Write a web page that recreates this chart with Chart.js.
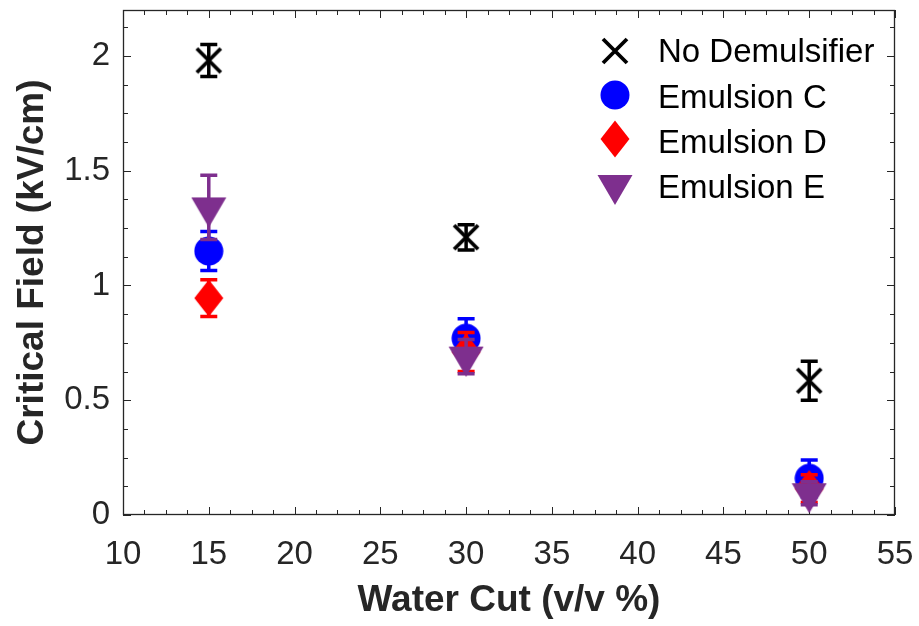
<!DOCTYPE html>
<html>
<head>
<meta charset="utf-8">
<script src="https://cdn.jsdelivr.net/npm/chart.js@4.4.1/dist/chart.umd.min.js"></script>
<style>
  html, body { margin: 0; padding: 0; background: #fff; }
</style>
</head>
<body>
<canvas id="criticalField" width="919" height="626"></canvas>
<script>
// water cut (v/v %) and critical field (kV/cm) per emulsion, with error bars
var waterCut = [15, 30, 50];
var seriesNames = ['No Demulsifier', 'Emulsion C', 'Emulsion D', 'Emulsion E'];
var noDemulsifier = [1.98, 1.21, 0.585];
var noDemulsifierErr = [0.07, 0.055, 0.085];
var emulsionC = [1.15, 0.77, 0.16];
var emulsionCErr = [0.085, 0.085, 0.08];
var emulsionD = [0.945, 0.71, 0.115];
var emulsionDErr = [0.08, 0.085, 0.06];
var emulsionE = [1.34, 0.69, 0.095];
var emulsionEErr = [0.14, 0.075, 0.05];
var xTicks = [10, 15, 20, 25, 30, 35, 40, 45, 50, 55];
var yTicks = [0, 0.5, 1, 1.5, 2];

var seriesColors = ['#000000', '#0000ff', '#ff0000', '#7e2f8e'];
var axisColor = '#262626';
var fontFamily = '"Liberation Sans", Arial, Helvetica, sans-serif';

// marker images, so the plot and the legend use the same shapes
function makeMarker(kind, color) {
	var c = document.createElement('canvas');
	var g;
	if (kind === 'x') {
		c.width = 28; c.height = 28;
		g = c.getContext('2d');
		g.strokeStyle = color;
		g.lineWidth = 3.8;
		g.beginPath();
		g.moveTo(2, 2); g.lineTo(26, 26);
		g.moveTo(26, 2); g.lineTo(2, 26);
		g.stroke();
	} else if (kind === 'o') {
		c.width = 30; c.height = 30;
		g = c.getContext('2d');
		g.fillStyle = color;
		g.beginPath();
		g.arc(15, 15, 14.5, 0, Math.PI * 2);
		g.fill();
	} else if (kind === 'd') {
		c.width = 30; c.height = 38;
		g = c.getContext('2d');
		g.fillStyle = color;
		g.beginPath();
		g.moveTo(15, 0.5); g.lineTo(29.5, 19); g.lineTo(15, 37.5); g.lineTo(0.5, 19);
		g.closePath();
		g.fill();
	} else {
		// downward triangle, centroid at the middle of the image
		c.width = 36; c.height = 40;
		g = c.getContext('2d');
		g.fillStyle = color;
		g.beginPath();
		g.moveTo(0.5, 10); g.lineTo(35.5, 10); g.lineTo(18, 40);
		g.closePath();
		g.fill();
	}
	return c;
}

var markers = [
	makeMarker('x', seriesColors[0]),
	makeMarker('o', seriesColors[1]),
	makeMarker('d', seriesColors[2]),
	makeMarker('v', seriesColors[3])
];

function toPoints(values) {
	return waterCut.map(function(x, i) { return { x: x, y: values[i] }; });
}

var seriesValues = [noDemulsifier, emulsionC, emulsionD, emulsionE];
var seriesErrors = [noDemulsifierErr, emulsionCErr, emulsionDErr, emulsionEErr];

var datasets = seriesValues.map(function(values, i) {
	return {
		label: seriesNames[i],
		data: toPoints(values),
		errorBars: seriesErrors[i],
		pointStyle: markers[i],
		pointRadius: 15,
		borderColor: seriesColors[i],
		backgroundColor: seriesColors[i],
		showLine: false,
		// first series is painted first, last one ends up on top
		order: seriesValues.length - 1 - i
	};
});

// vertical error bars with caps, painted right under each series' markers
var errorBars = {
	id: 'errorBars',
	beforeDatasetDraw: function(chart, args) {
		var ds = chart.data.datasets[args.index];
		var x = chart.scales.x, y = chart.scales.y;
		var ctx = chart.ctx;
		ctx.save();
		ctx.strokeStyle = ds.borderColor;
		ctx.lineWidth = 3.5;
		ctx.beginPath();
		ds.data.forEach(function(p, j) {
			var e = ds.errorBars[j];
			var px = x.getPixelForValue(p.x);
			var top = y.getPixelForValue(p.y + e);
			var bot = y.getPixelForValue(p.y - e);
			ctx.moveTo(px, top); ctx.lineTo(px, bot);
			ctx.moveTo(px - 8.5, top); ctx.lineTo(px + 8.5, top);
			ctx.moveTo(px - 8.5, bot); ctx.lineTo(px + 8.5, bot);
		});
		ctx.stroke();
		ctx.restore();
	}
};

// boxed axes with inward major and minor ticks on all four sides
var frameBox = {
	id: 'frameBox',
	beforeDatasetsDraw: function(chart) {
		var ctx = chart.ctx, a = chart.chartArea;
		var x = chart.scales.x, y = chart.scales.y;
		ctx.save();
		ctx.strokeStyle = axisColor;
		ctx.lineWidth = 1;
		ctx.beginPath();
		var xStep = (xTicks[1] - xTicks[0]) / 4;
		for (var i = 0; xTicks[0] + i * xStep <= x.max + 1e-9; i++) {
			var px = Math.round(x.getPixelForValue(xTicks[0] + i * xStep)) + 0.5;
			var len = i % 4 === 0 ? 8 : 5;
			ctx.moveTo(px, a.bottom); ctx.lineTo(px, a.bottom - len);
			ctx.moveTo(px, a.top); ctx.lineTo(px, a.top + len);
		}
		var yStep = (yTicks[1] - yTicks[0]) / 4;
		for (var k = 0; yTicks[0] + k * yStep <= y.max + 1e-9; k++) {
			var py = Math.round(y.getPixelForValue(yTicks[0] + k * yStep)) + 0.5;
			var ylen = k % 4 === 0 ? 8 : 5;
			ctx.moveTo(a.left, py); ctx.lineTo(a.left + ylen, py);
			ctx.moveTo(a.right, py); ctx.lineTo(a.right - ylen, py);
		}
		ctx.stroke();
		ctx.lineWidth = 1.3;
		ctx.strokeRect(a.left + 0.5, a.top + 0.5, a.right - a.left - 1, a.bottom - a.top - 1);
		ctx.restore();
	}
};

// legend in the upper right of the plot, no frame
var markerLegend = {
	id: 'markerLegend',
	afterDraw: function(chart) {
		var ctx = chart.ctx;
		var rows = [51, 95, 139, 185];
		var baselines = [62, 108, 153, 198];
		ctx.save();
		ctx.font = '33px ' + fontFamily;
		ctx.fillStyle = '#000';
		ctx.textBaseline = 'alphabetic';
		seriesNames.forEach(function(name, i) {
			var m = markers[i];
			ctx.drawImage(m, 615 - m.width / 2, rows[i] - m.height / 2);
			ctx.fillText(name, 658, baselines[i]);
		});
		ctx.restore();
	}
};

// fixed axis sizes, and no extra room reserved for the end labels
function fixPadding(scale) {
	scale.paddingTop = 0;
	scale.paddingBottom = 0;
	scale.paddingLeft = 0;
	scale.paddingRight = 0;
}

var ctx = document.getElementById('criticalField').getContext('2d');
var chart = new Chart(ctx, {
	type: 'scatter',
	data: { datasets: datasets },
	plugins: [frameBox, errorBars, markerLegend],
	options: {
		responsive: false,
		animation: false,
		devicePixelRatio: 1,
		layout: {
			autoPadding: false,
			padding: { top: 10, right: 24, left: 0, bottom: 0 }
		},
		plugins: {
			legend: { display: false },
			tooltip: { enabled: false }
		},
		scales: {
			x: {
				type: 'linear',
				min: 10,
				max: 55,
				grid: { display: false, drawTicks: false },
				border: { display: false },
				afterBuildTicks: function(scale) {
					scale.ticks = xTicks.map(function(v) { return { value: v }; });
				},
				afterFit: function(scale) { scale.height = 111; fixPadding(scale); },
				ticks: {
					autoSkip: false,
					maxRotation: 0,
					padding: 20,
					color: axisColor,
					font: { family: fontFamily, size: 33 },
					callback: function(v) { return String(v); }
				},
				title: {
					display: true,
					text: 'Water Cut (v/v %)',
					color: axisColor,
					font: { family: fontFamily, size: 37, weight: 'bold' },
					padding: { top: 0, bottom: 3 }
				}
			},
			y: {
				type: 'linear',
				min: 0,
				max: 2.2,
				grid: { display: false, drawTicks: false },
				border: { display: false },
				afterBuildTicks: function(scale) {
					scale.ticks = yTicks.map(function(v) { return { value: v }; });
				},
				afterFit: function(scale) { scale.width = 123; fixPadding(scale); },
				ticks: {
					autoSkip: false,
					padding: 13,
					color: axisColor,
					font: { family: fontFamily, size: 33 },
					callback: function(v) { return String(v); }
				},
				title: {
					display: true,
					text: 'Critical Field (kV/cm)',
					color: axisColor,
					font: { family: fontFamily, size: 37, weight: 'bold' },
					padding: { top: 11, bottom: 0 }
				}
			}
		}
	}
});
</script>
</body>
</html>
